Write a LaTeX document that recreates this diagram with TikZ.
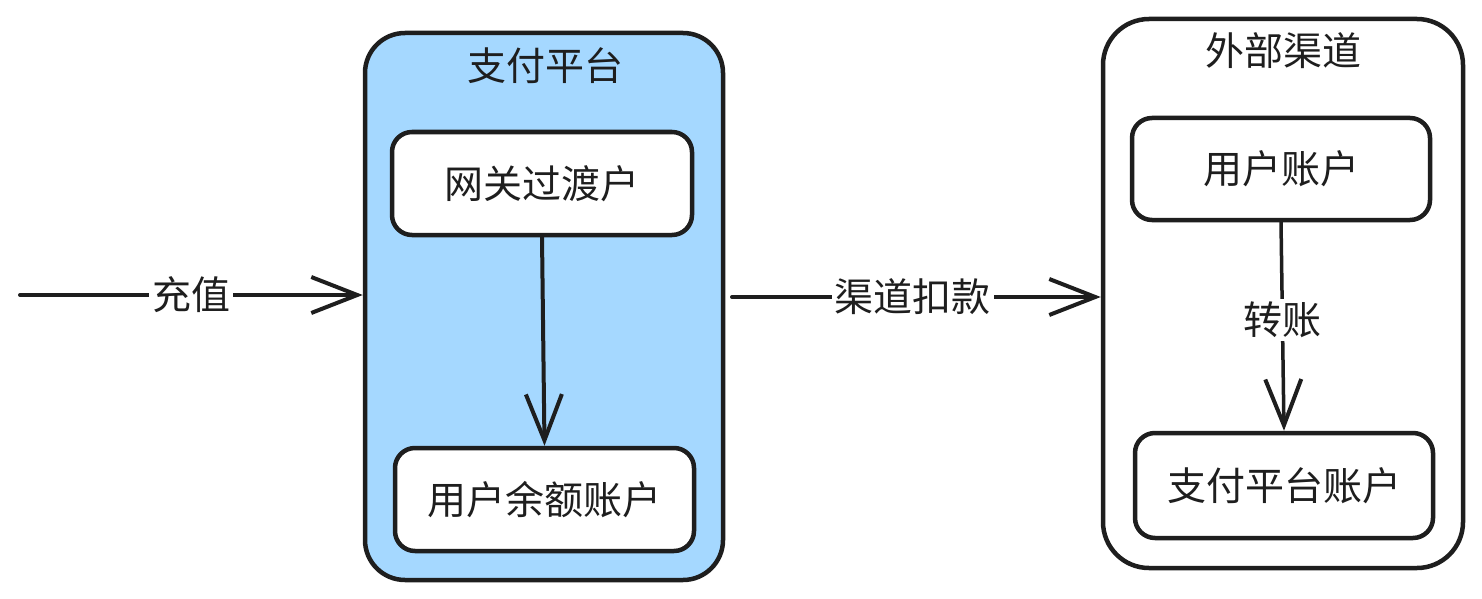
\documentclass[tikz,border=0pt]{standalone}
\usepackage{fontspec}
\setmainfont{Noto Sans CJK SC}
\usetikzlibrary{arrows.meta}
\definecolor{fillblue}{HTML}{A5D8FF}
\definecolor{ink}{HTML}{1E1E1E}
\begin{document}
\begin{tikzpicture}[x=1pt,y=-1pt,
  bigfont/.style={font=\fontsize{39}{42}\selectfont},
  container/.style={draw=ink, line width=4.5pt, rounded corners=40pt},
  acct/.style={draw=ink, fill=white, line width=4.5pt, rounded corners=20pt, bigfont, text=ink, inner sep=0pt},
  title/.style={bigfont, text=ink, inner sep=0pt},
  lbl/.style={fill=white, inner sep=3pt, bigfont, text=ink},
  conn/.style={draw=ink, line width=4pt, line cap=round,
    -{Straight Barb[length=46pt,width=36pt,line width=4pt]}}
]
\useasboundingbox (0,0) rectangle (1482,599);
% containers
\node[container, fill=fillblue, minimum width=358pt, minimum height=547pt] (plat) at (544,306.5) {};
\node[container, fill=white, rounded corners=46pt, minimum width=360pt, minimum height=549pt] (ext) at (1283,293.5) {};
% titles
\node[title] (platt) at (545,66) {支付平台};
\node[title] (extt) at (1283,51) {外部渠道};
% accounts
\node[acct, minimum width=300pt, minimum height=103pt] (gw) at (542,183.5) {\raisebox{2pt}{网关过渡户}};
\node[acct, minimum width=299pt, minimum height=103pt] (bal) at (544.5,499.5) {\raisebox{2pt}{用户余额账户}};
\node[acct, minimum width=298pt, minimum height=102pt] (ua) at (1281,169) {\raisebox{2pt}{用户账户}};
\node[acct, minimum width=298pt, minimum height=105pt] (pa) at (1284,485.5) {\raisebox{2pt}{支付平台账户}};
% connectors
\coordinate (s1) at (20,295);
\coordinate (m1) at (732,297);
\draw[conn] (s1) -- node[lbl, pos=0.5] (l1) {充值} (plat.west |- s1);
\draw[conn] (m1) -- node[lbl, pos=0.49] (l2) {渠道扣款} (ext.west |- m1);
\draw[conn] (gw.south) -- (bal.north);
\draw[conn, line width=3.5pt] (ua.south) -- node[lbl, pos=0.47] (l3) {转账} (pa.north);
\end{tikzpicture}
\end{document}
